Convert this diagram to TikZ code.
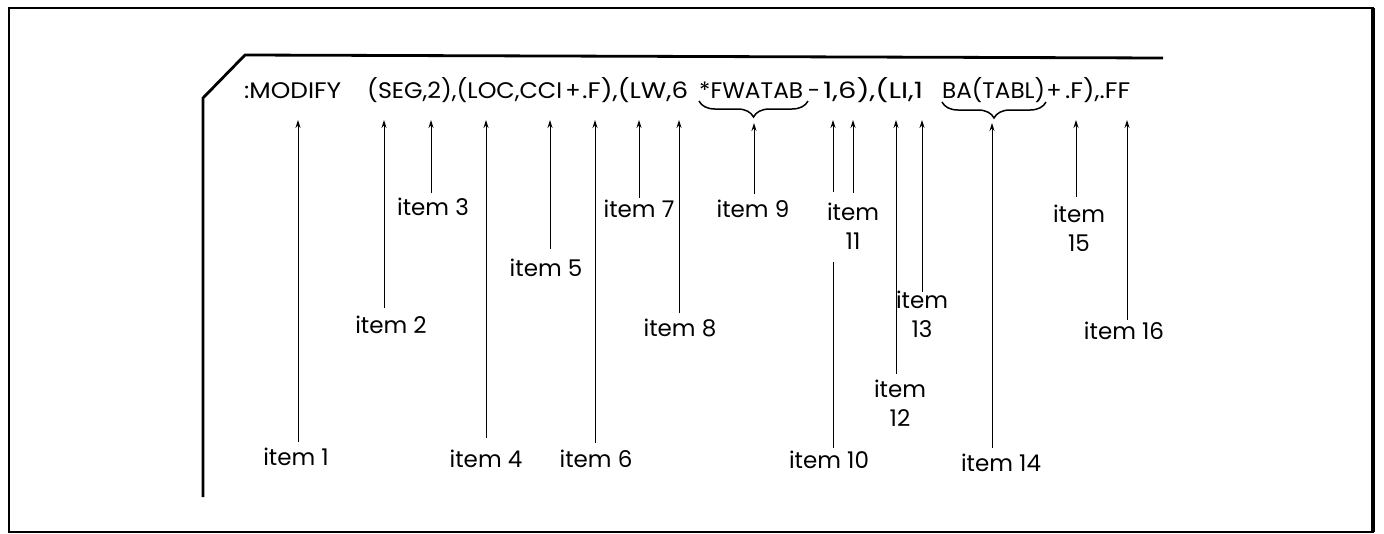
\documentclass[tikz,border=0pt]{standalone}
\usepackage{fontspec}
\setmainfont{Poppins}
\usepackage{graphicx}
\usetikzlibrary{arrows.meta,decorations.pathreplacing}
\newcommand{\fitseg}[2]{\resizebox{#1pt}{\height}{#2}}
\begin{document}
\begin{tikzpicture}[x=1pt,y=-1pt,
  code/.style={inner sep=0pt, anchor=base west, font=\fontsize{22.5}{26}\selectfont},
  codec/.style={inner sep=0pt, anchor=base, font=\fontsize{22.5}{26}\selectfont},
  lbl/.style={inner sep=0pt, anchor=base, font=\fontsize{23}{27}\selectfont},
  lbltwo/.style={inner sep=0pt, anchor=north, align=center, font=\fontsize{23}{29}\selectfont},
  arr/.style={-{Stealth[length=8pt,width=5pt]}, line width=0.9pt},
  plain/.style={line width=0.9pt},
  brc/.style={decorate, decoration={brace, mirror, amplitude=16pt, aspect=0.5}, line width=1.5pt},
  outerframe/.style={line width=2pt},
  innerframe/.style={line width=2.8pt, line join=miter}
]
\useasboundingbox (0,0) rectangle (1384,533);
% frames
\draw[outerframe] (8.5,8) rectangle (1373,531.5);
\draw[line width=4pt] (1373,8) -- (1373,531.5);
\draw[innerframe] (1163,58) -- (245,55) -- (203,98) -- (203,497);

% code line
\node[code] (s1) at (244,98) {\fitseg{97}{:MODIFY}};
\node[code] (s2) at (367,98) {\fitseg{195}{(SEG,2),(LOC,CCI}};
\node[codec] (s3) at (573,98) {+};
\node[code] (s4) at (582,98) {\fitseg{106}{.F),(LW,6}};
\node[code] (s5) at (699,98) {\fitseg{104}{*FWATAB}};
\node[codec] (s6) at (814,98) {-};
\node[code] (s7) at (823,98) {\fitseg{100}{1,6),(LI,1}};
\node[code] (s8) at (942,98) {\fitseg{103}{BA(TABL)}};
\node[codec] (s9) at (1054,98) {+};
\node[code] (s10) at (1065,98) {\fitseg{65}{.F),.FF}};

% braces
\coordinate (bra) at (699,101);
\coordinate (brb) at (808,101);
\coordinate (brc) at (942,102);
\coordinate (brd) at (1046,102);
\draw[brc] (bra) -- (brb);
\draw[brc] (brc) -- (brd);

% labels
\node[lbl] (l1) at (296,465) {item 1};
\node[lbl] (l2) at (391,333) {item 2};
\node[lbl] (l3) at (433,215) {item 3};
\node[lbl] (l4) at (486,467) {item 4};
\node[lbl] (l5) at (546,276) {item 5};
\node[lbl] (l6) at (596,467) {item 6};
\node[lbl] (l7) at (639,217) {item 7};
\node[lbl] (l8) at (680,336) {item 8};
\node[lbl] (l9) at (753,217) {item 9};
\node[lbl] (l10) at (829,468) {item 10};
\node[lbltwo] (l11) at (853,203) {item\\11};
\node[lbltwo] (l12) at (900,380) {item\\12};
\node[lbltwo] (l13) at (922,291) {item\\13};
\node[lbl] (l14) at (1001,471) {item 14};
\node[lbltwo] (l15) at (1079,205) {item\\15};
\node[lbl] (l16) at (1124,339) {item 16};

% arrow tips and feet
\coordinate (t1) at (298,120);   \coordinate (b1) at (298,442);
\coordinate (t2) at (384,120);   \coordinate (b2) at (384,308);
\coordinate (t3) at (431,120);   \coordinate (b3) at (431,193);
\coordinate (t4) at (486,120);   \coordinate (b4) at (486,438);
\coordinate (t5) at (550,120);   \coordinate (b5) at (550,249);
\coordinate (t6) at (595,120);   \coordinate (b6) at (595,443);
\coordinate (t7) at (639,120);   \coordinate (b7) at (639,198);
\coordinate (t8) at (679,120);   \coordinate (b8) at (679,313);
\coordinate (t9) at (754,123);   \coordinate (b9) at (754,194);
\coordinate (t10) at (833,120);  \coordinate (m10) at (833,192);
\coordinate (n10) at (833,262);  \coordinate (b10) at (833,448);
\coordinate (t11) at (853,120);  \coordinate (b11) at (853,193);
\coordinate (t12) at (896,120);  \coordinate (b12) at (896,374);
\coordinate (t13) at (922,120);  \coordinate (b13) at (922,292);
\coordinate (t14) at (992,123);  \coordinate (b14) at (992,448);
\coordinate (t15) at (1076,120); \coordinate (b15) at (1076,197);
\coordinate (t16) at (1127,120); \coordinate (b16) at (1127,320);

\foreach \i in {1,...,9,11,12,13,14,15,16} {
  \draw[arr] (b\i) -- (t\i);
}
\draw[arr] (m10) -- (t10);
\draw[plain] (b10) -- (n10);
\end{tikzpicture}
\end{document}
